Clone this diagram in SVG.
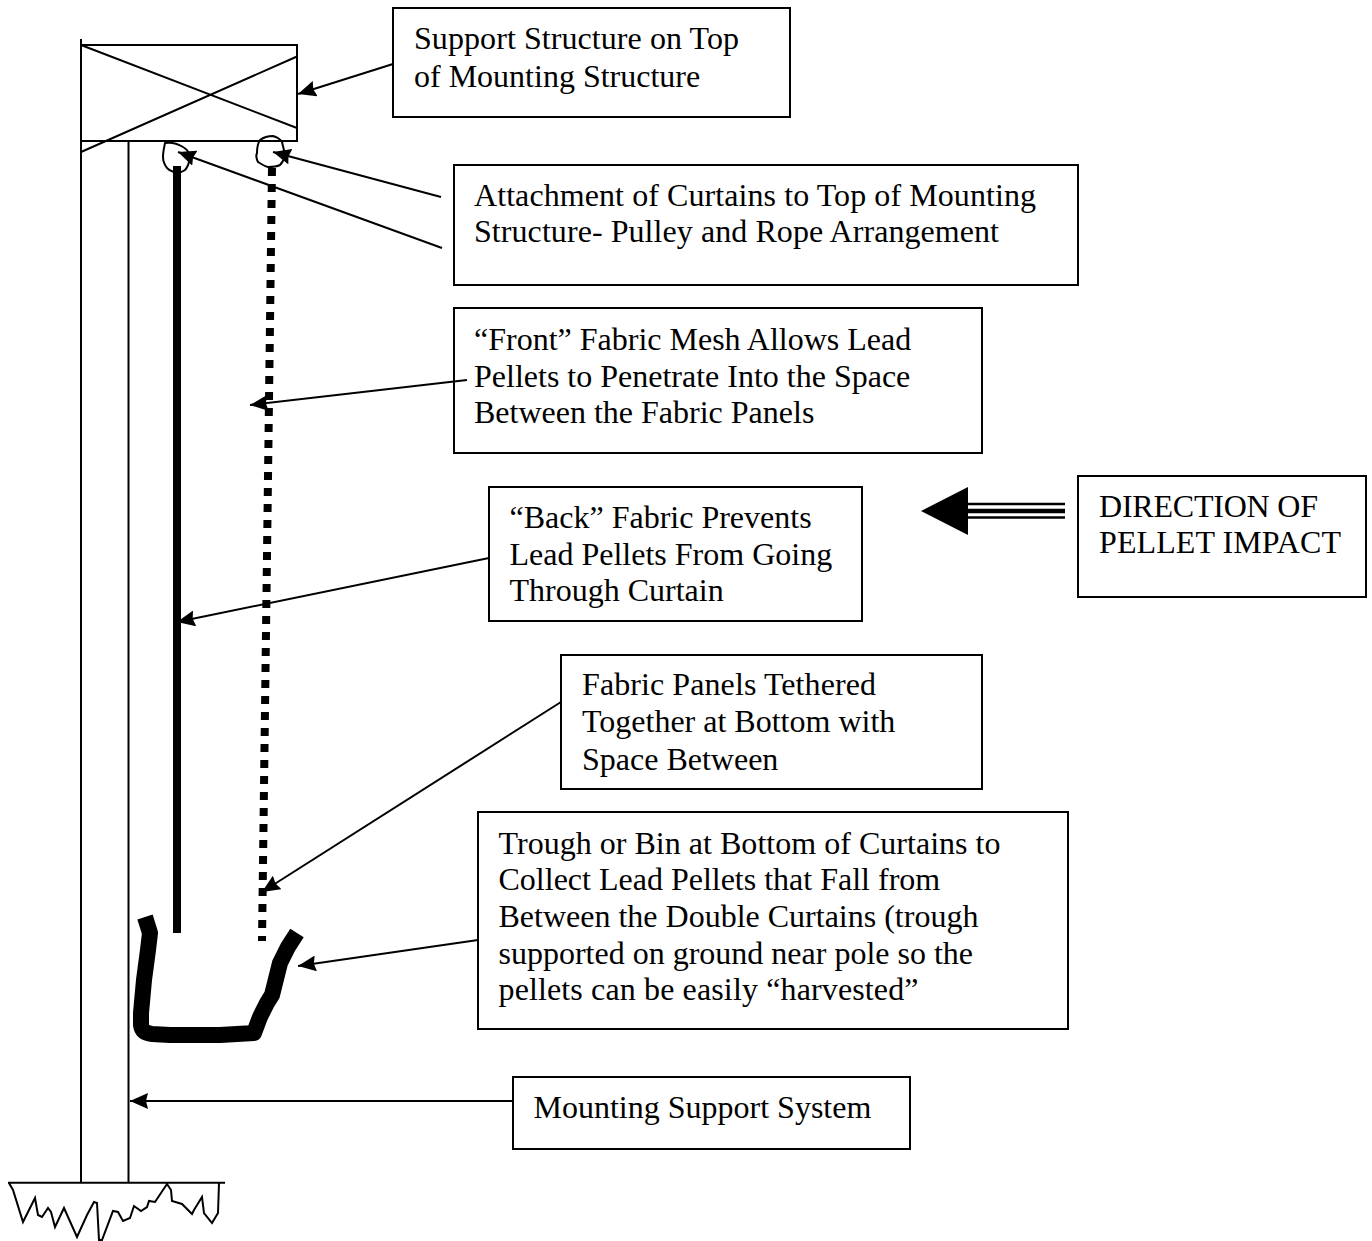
<svg xmlns="http://www.w3.org/2000/svg" width="1372" height="1241" viewBox="0 0 1372 1241">
<style>
text{font-family:"Liberation Serif","Times New Roman",serif;font-size:32px;fill:#000}
.box{fill:#fff;stroke:#000;stroke-width:2}
.ln{fill:none;stroke:#000;stroke-width:2}
.conn{fill:none;stroke:#000;stroke-width:2;marker-end:url(#ah)}
</style>
<defs>
<marker id="ah" markerUnits="userSpaceOnUse" markerWidth="19" markerHeight="16" refX="18" refY="8" orient="auto"><path d="M0 0L18 8L0 16L2 8Z" fill="#000"/></marker>
</defs>
<rect width="1372" height="1241" fill="#fff"/>
<g id="support-frame">
<rect class="ln" x="81" y="45" width="216" height="96"/>
<path class="ln" d="M81 45L297 128M297 56.500L81 152"/>
</g>
<g id="pole">
<path class="ln" d="M81 39V1183M128.500 141V1183"/>
</g>
<g id="ground">
<path class="ln" d="M8 1182.700H225M9 1183L13 1190L23 1222L35 1198L38 1215L42 1217L48 1208L51 1212L55 1227L64 1208L77 1237L87 1215L94 1202L97 1203L99 1240L102 1240L113 1211L118 1212L123 1221L130 1218L134 1206L141 1211L147 1207L149 1201L155 1202L167 1184L171 1190L172 1201L182 1204L192 1214L194 1210L202 1197L204 1213L212 1223L218 1213L219 1183"/>
</g>
<g id="pulley-left">
<path class="ln" d="M165 143C171 142 178 144 183 147C188 150 190 154 190 158C189 163 188 167 185 170C182 172 180 173 177 173C173 172 170 171 167 168C164 164 163 161 163 157C163 152 164 148 165 143Z"/>
</g>
<g id="pulley-right">
<path class="ln" d="M260 140C264 137 269 136 273 136C277 137 280 139 282 142C283 146 284 150 285 155C284 160 282 163 280 165C276 167 272 167 268 167C264 166 261 164 258 162C256 158 256 155 257 153C257 148 258 143 260 140Z"/>
</g>
<g id="back-fabric">
<path fill="none" stroke="#000" stroke-width="8" d="M177 166V933"/>
</g>
<g id="front-fabric">
<path fill="none" stroke="#000" stroke-width="8" stroke-dasharray="8 8" d="M272 168L262 941"/>
</g>
<g id="trough">
<path fill="none" stroke="#000" stroke-width="16" stroke-linejoin="round" d="M145 917L150 933L148 950L144 980L141 1013L141 1025Q142 1033 152 1034L170 1035L220 1035L254 1033L260 1017L267 1003L272 995L275 983L280 963L288 947L297 933"/>
</g>
<g id="impact-arrow">
<path d="M921 511L968 487V535Z" fill="#000"/>
<path d="M965 504H1065" fill="none" stroke="#000" stroke-width="2.500"/>
<path d="M965 511H1065" fill="none" stroke="#000" stroke-width="4.500"/>
<path d="M965 517.500H1065" fill="none" stroke="#000" stroke-width="2.500"/>
</g>
<g id="label-support">
<rect class="box" x="393" y="8" width="397" height="109"/>
<text x="414" y="49" textLength="325">Support Structure on Top</text>
<text x="414" y="87">of Mounting Structure</text>
</g>
<g id="label-attachment">
<rect class="box" x="454" y="165" width="624" height="120"/>
<text x="474" y="206" textLength="562">Attachment of Curtains to Top of Mounting</text>
<text x="474" y="242" textLength="525">Structure- Pulley and Rope Arrangement</text>
</g>
<g id="label-front">
<rect class="box" x="454" y="308" width="528" height="145"/>
<text x="474" y="350">“Front” Fabric Mesh Allows Lead</text>
<text x="474" y="387">Pellets to Penetrate Into the Space</text>
<text x="474" y="423">Between the Fabric Panels</text>
</g>
<g id="label-back">
<rect class="box" x="489" y="487" width="373" height="134"/>
<text x="509.500" y="528">“Back” Fabric Prevents</text>
<text x="509.500" y="565">Lead Pellets From Going</text>
<text x="509.500" y="601">Through Curtain</text>
</g>
<g id="label-direction">
<rect class="box" x="1078" y="476" width="288" height="121"/>
<text x="1099" y="517" textLength="219">DIRECTION OF</text>
<text x="1099" y="553" textLength="242">PELLET IMPACT</text>
</g>
<g id="label-tether">
<rect class="box" x="561" y="655" width="421" height="134"/>
<text x="582" y="695" textLength="294">Fabric Panels Tethered</text>
<text x="582" y="732">Together at Bottom with</text>
<text x="582" y="770">Space Between</text>
</g>
<g id="label-trough">
<rect class="box" x="478" y="812" width="590" height="217"/>
<text x="498.500" y="854" textLength="502">Trough or Bin at Bottom of Curtains to</text>
<text x="498.500" y="890">Collect Lead Pellets that Fall from</text>
<text x="498.500" y="927">Between the Double Curtains (trough</text>
<text x="498.500" y="964">supported on ground near pole so the</text>
<text x="498.500" y="1000" textLength="420">pellets can be easily “harvested”</text>
</g>
<g id="label-mounting">
<rect class="box" x="513" y="1077" width="397" height="72"/>
<text x="533.500" y="1118">Mounting Support System</text>
</g>
<g id="connectors">
<path class="conn" d="M393 64L298 94"/>
<path class="conn" d="M441 197L273 152"/>
<path class="conn" d="M442 248L178 152"/>
<path class="conn" d="M467 380L250 405"/>
<path class="conn" d="M489 558L177 622"/>
<path class="conn" d="M561 702L262 892"/>
<path class="conn" d="M478 940L298 966"/>
<path class="conn" d="M513 1101H130"/>
</g>
</svg>
